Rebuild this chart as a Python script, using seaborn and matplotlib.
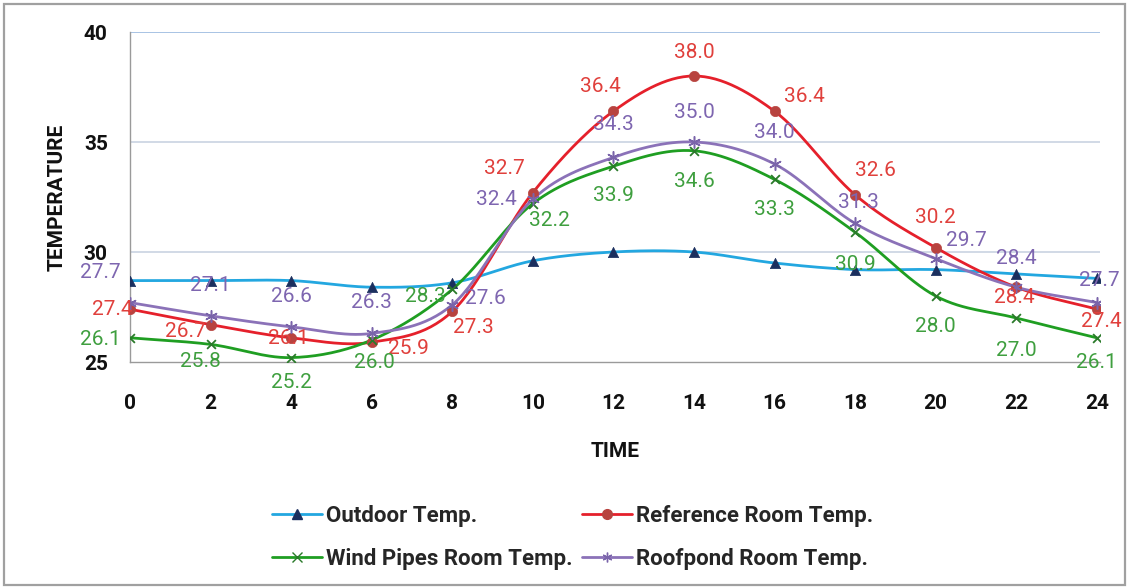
import numpy as np
import pandas as pd
import matplotlib
matplotlib.use("Agg")
import matplotlib.pyplot as plt
from matplotlib.lines import Line2D
from matplotlib.patches import Rectangle
import seaborn as sns

# ---------------- data ----------------
time = [0, 2, 4, 6, 8, 10, 12, 14, 16, 18, 20, 22, 24]
outdoor = [28.7, 28.7, 28.7, 28.4, 28.6, 29.6, 30.0, 30.0, 29.5, 29.2, 29.2, 29.0, 28.8]
reference = [27.4, 26.7, 26.1, 25.9, 27.3, 32.7, 36.4, 38.0, 36.4, 32.6, 30.2, 28.4, 27.4]
wind_pipes = [26.1, 25.8, 25.2, 26.0, 28.3, 32.2, 33.9, 34.6, 33.3, 30.9, 28.0, 27.0, 26.1]
roofpond = [27.7, 27.1, 26.6, 26.3, 27.6, 32.4, 34.3, 35.0, 34.0, 31.3, 29.7, 28.4, 27.7]
series_names = ["Outdoor Temp.", "Reference Room Temp.", "Wind Pipes Room Temp.", "Roofpond Room Temp."]
y_ticks = [25, 30, 35, 40]
x_ticks = time

# ---------------- style ----------------
sns.set_theme(style="white")
plt.rcParams["font.family"] = ["Roboto", "DejaVu Sans"]

line_colors = ["#23A7E0", "#E5202B", "#1F9E22", "#8B72B8"]
marker_colors = ["#1B2F5E", "#B8433F", "#2A7A2A", "#7A64AA"]
label_colors = [None, "#E0403C", "#3F9F3F", "#7E66B0"]
markers = ["^", "o", "x", "*"]

# label offsets in pixels (dx right, dy down)
ref_off = [(-18, 0), (-25, 7), (-3, 1), (37, 6), (21, 16), (-28, -24), (-13, -25),
           (0, -23), (30, -15), (20, -24), (0, -30), (-2, 10), (5, 12)]
wind_off = [(-30, 2), (-10, 17), (0, 25), (3, 23), (-27, 7), (17, 17), (0, 29),
            (0, 31), (0, 30), (0, 32), (0, 30), (0, 33), (0, 25)]
roof_off = [(-30, -30), (0, -30), (0, -30), (0, -31), (33, -6), (-36, 0), (0, -33),
            (0, -30), (0, -32), (3, -21), (31, -18), (0, -29), (3, -22)]


def smooth(x, y, n=30):
    """Bezier smoothing of the drawn line (as in a spreadsheet 'smoothed line')."""
    x = np.asarray(x, float)
    y = np.asarray(y, float)
    px = np.concatenate([[2 * x[0] - x[1]], x, [2 * x[-1] - x[-2]]])
    py = np.concatenate([[2 * y[0] - y[1]], y, [2 * y[-1] - y[-2]]])
    xs, ys = [], []
    t = np.linspace(0, 1, n, endpoint=False)
    for i in range(1, len(px) - 2):
        p0, p1, p2, p3 = (np.array([px[j], py[j]]) for j in (i - 1, i, i + 1, i + 2))
        c1 = p1 + (p2 - p0) / 6
        c2 = p2 - (p3 - p1) / 6
        b = ((1 - t) ** 3)[:, None] * p1 + (3 * (1 - t) ** 2 * t)[:, None] * c1 \
            + (3 * (1 - t) * t ** 2)[:, None] * c2 + (t ** 3)[:, None] * p2
        xs.append(b[:, 0])
        ys.append(b[:, 1])
    xs.append([x[-1]])
    ys.append([y[-1]])
    return np.concatenate(xs), np.concatenate(ys)


fig = plt.figure(figsize=(11.29, 5.87), dpi=100)
ax = fig.add_axes([130 / 1129, 1 - 362 / 587, 970 / 1129, 330 / 587])

all_series = [outdoor, reference, wind_pipes, roofpond]
for k, vals in enumerate(all_series):
    sx, sy = smooth(time, vals)
    sns.lineplot(x=sx, y=sy, ax=ax, color=line_colors[k], linewidth=2.0,
                 sort=False, estimator=None, zorder=3 + k)
    df = pd.DataFrame({"time": time, "value": vals})
    if markers[k] == "x":
        sns.scatterplot(data=df, x="time", y="value", ax=ax, marker="x",
                        color=marker_colors[k], s=40, linewidth=1.3, zorder=8)
    elif markers[k] == "*":
        sns.scatterplot(data=df, x="time", y="value", ax=ax, marker=(6, 2, 0),
                        color=marker_colors[k], s=70, linewidth=1.1, zorder=8)
    else:
        sns.scatterplot(data=df, x="time", y="value", ax=ax, marker=markers[k],
                        color=marker_colors[k], s=55, edgecolor=marker_colors[k],
                        linewidth=0.5, zorder=8)

# data labels
for vals, offs, col in [(reference, ref_off, label_colors[1]),
                        (wind_pipes, wind_off, label_colors[2]),
                        (roofpond, roof_off, label_colors[3])]:
    for t_, v_, (dx, dy) in zip(time, vals, offs):
        ax.annotate(f"{v_:.1f}", (t_, v_), xytext=(dx, -dy), textcoords="offset pixels",
                    ha="center", va="center", color=col, fontsize=15, zorder=10,
                    annotation_clip=False)

ax.set_xlim(0, 24.08)
ax.set_ylim(25, 40)
ax.set_yticks(y_ticks)
ax.set_xticks(x_ticks)
ax.set_yticklabels([str(v) for v in y_ticks], fontsize=15, fontweight="bold", color="#111111")
ax.set_xticklabels([str(v) for v in x_ticks], fontsize=15, fontweight="bold", color="#111111")
ax.tick_params(axis="y", which="major", length=7, width=1, color="#999999", direction="out", pad=9)
ax.tick_params(axis="x", which="major", length=6, width=1, color="#999999", direction="out", pad=17)
for y_ in y_ticks[1:]:
    ax.axhline(y_, color="#C9D3E2", linewidth=1.2, zorder=1)
ax.axhline(40, color="#A9C4E4", linewidth=1.4, zorder=1)
for s in ["top", "right"]:
    ax.spines[s].set_visible(False)
for s in ["left", "bottom"]:
    ax.spines[s].set_color("#9A9A9A")
    ax.spines[s].set_linewidth(1.0)

ax.set_xlabel("TIME", fontsize=15, fontweight="bold", labelpad=21, color="#111111")
ax.set_ylabel("TEMPERATURE", fontsize=15, fontweight="bold", labelpad=12, color="#111111")

handles = []
for k in range(4):
    mk = markers[k] if markers[k] != "*" else (6, 2, 0)
    handles.append(Line2D([0], [0], color=line_colors[k], linewidth=2.0, marker=mk,
                          markersize=7, markerfacecolor=marker_colors[k],
                          markeredgecolor=marker_colors[k]))
order = [0, 2, 1, 3]
leg = fig.legend([handles[i] for i in order], [series_names[i] for i in order], ncol=2,
                 loc="center", bbox_to_anchor=(0.507, 0.084),
                 frameon=False, prop={"size": 16, "weight": "bold"}, handlelength=2.25,
                 handletextpad=0.2, columnspacing=0.4, labelspacing=0.95)

fig.patches.append(Rectangle((4 / 1129, 2 / 587), 1121 / 1129, 581 / 587, transform=fig.transFigure,
                             fill=False, edgecolor="#A0A0A0", linewidth=1.6))

fig.savefig("out.png", dpi=100)
